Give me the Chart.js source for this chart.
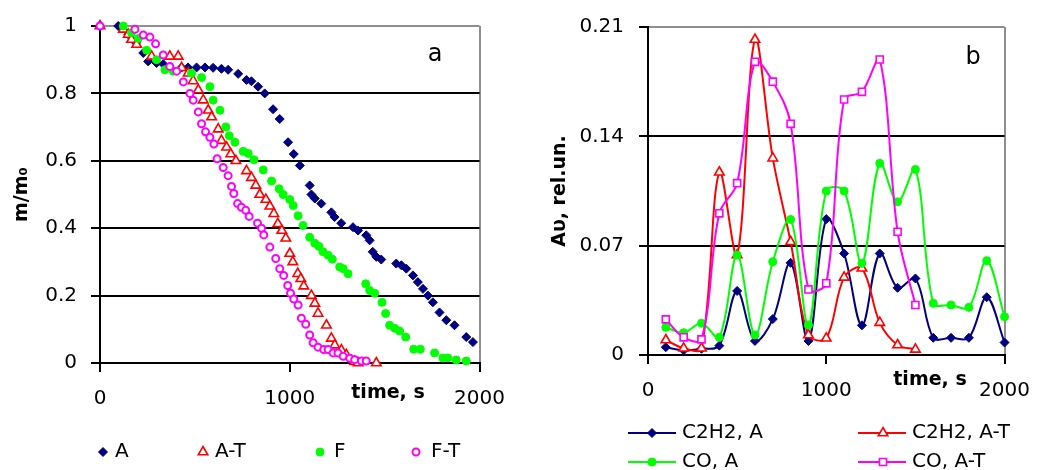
<!DOCTYPE html>
<html>
<head>
<meta charset="utf-8">
<script src="https://cdn.jsdelivr.net/npm/chart.js@4.4.0/dist/chart.umd.min.js"></script>
<style>
  html, body { margin: 0; padding: 0; background: #fff; }
  #wrap { position: relative; width: 1045px; height: 470px; overflow: hidden; }
  #chartA { position: absolute; left: 0; top: 0; }
  #chartB { position: absolute; left: 520px; top: 0; }
</style>
</head>
<body>
<div id="wrap">
  <canvas id="chartA" width="520" height="470"></canvas>
  <canvas id="chartB" width="525" height="470"></canvas>
</div>
<script>
// --- chart a: relative mass vs time ---
const tA = [96, 150, 190, 228, 254, 298, 333, 430, 464, 509, 553, 596, 640, 675, 728, 772, 798, 833, 868, 912,
  947, 991, 1021, 1053, 1105, 1114, 1132, 1166, 1219, 1236, 1271, 1333, 1360, 1403, 1421, 1437, 1456, 1482, 1561, 1588,
  1614, 1649, 1675, 1702, 1728, 1754, 1789, 1825, 1868, 1930, 1965];
const mA = [1.0, 0.975, 0.95, 0.92, 0.895, 0.89, 0.887, 0.877, 0.877, 0.877, 0.877, 0.876, 0.873, 0.87, 0.858, 0.84, 0.836, 0.82, 0.80, 0.753,
  0.724, 0.655, 0.62, 0.586, 0.527, 0.50, 0.488, 0.473, 0.447, 0.433, 0.415, 0.403, 0.393, 0.379, 0.364, 0.33, 0.315, 0.307, 0.295, 0.29,
  0.28, 0.26, 0.24, 0.22, 0.20, 0.18, 0.15, 0.127, 0.112, 0.077, 0.062];

const tAT = [0, 123, 149, 166, 193, 272, 368, 412, 430, 465, 491, 518, 544, 570, 588, 623, 640, 667, 689, 716,
  772, 798, 821, 842, 874, 895, 916, 937, 958, 979, 1000, 1016, 1042, 1058, 1074, 1114, 1132, 1149, 1193, 1219,
  1237, 1272, 1298, 1342, 1360, 1456];
const mAT = [1.0, 0.99, 0.975, 0.96, 0.945, 0.91, 0.91, 0.91, 0.876, 0.86, 0.837, 0.81, 0.78, 0.75, 0.73, 0.694, 0.66, 0.64, 0.62, 0.60,
  0.57, 0.55, 0.527, 0.50, 0.485, 0.465, 0.443, 0.413, 0.393, 0.37, 0.325, 0.30, 0.265, 0.25, 0.228, 0.20, 0.177, 0.147, 0.112, 0.073,
  0.053, 0.038, 0.024, 0.004, 0.0, 0.0];

const tF = [123, 166, 202, 246, 298, 342, 386, 482, 535, 579, 596, 632, 663, 681, 711, 754, 781, 811, 860, 904,
  944, 965, 1000, 1018, 1044, 1070, 1105, 1132, 1154, 1175, 1202, 1224, 1263, 1281, 1307, 1400, 1421, 1447, 1486, 1505,
  1526, 1553, 1579, 1611, 1653, 1688, 1763, 1807, 1833, 1877, 1930];
const mF = [1.0, 0.98, 0.963, 0.928, 0.90, 0.87, 0.866, 0.86, 0.847, 0.82, 0.78, 0.75, 0.70, 0.674, 0.655, 0.628, 0.622, 0.603, 0.573, 0.54,
  0.517, 0.50, 0.485, 0.467, 0.437, 0.408, 0.373, 0.355, 0.346, 0.33, 0.32, 0.308, 0.285, 0.28, 0.265, 0.235, 0.215, 0.207, 0.18, 0.147,
  0.112, 0.103, 0.095, 0.077, 0.041, 0.041, 0.03, 0.015, 0.015, 0.009, 0.006];

const tFT = [0, 184, 228, 263, 293, 333, 368, 404, 439, 474, 491, 518, 535, 556, 579, 600, 617, 649, 675, 693,
  705, 725, 745, 768, 786, 830, 851, 863, 895, 926, 947, 968, 989, 1004, 1021, 1044, 1061, 1084, 1105, 1123,
  1149, 1179, 1202, 1228, 1254, 1281, 1316, 1342, 1377, 1403];
const mFT = [1.0, 0.99, 0.973, 0.967, 0.947, 0.914, 0.88, 0.866, 0.834, 0.80, 0.78, 0.745, 0.71, 0.686, 0.67, 0.65, 0.606, 0.58, 0.556, 0.524,
  0.503, 0.473, 0.462, 0.453, 0.435, 0.415, 0.40, 0.38, 0.344, 0.31, 0.28, 0.26, 0.23, 0.207, 0.19, 0.172, 0.133, 0.115, 0.083, 0.06,
  0.047, 0.04, 0.04, 0.03, 0.03, 0.02, 0.014, 0.01, 0.006, 0.006];

const xTicks = [0, 1000, 2000];
const yTicksA = [0, 0.2, 0.4, 0.6, 0.8, 1];

// --- chart b: absorbance vs time ---
const timeB = [100, 200, 300, 400, 500, 600, 700, 800, 900, 1000, 1100, 1200, 1300, 1400, 1500, 1600, 1700, 1800, 1900, 2000];
const c2h2A = [0.005, 0.003, 0.004, 0.006, 0.041, 0.009, 0.023, 0.059, 0.009, 0.087, 0.065, 0.019, 0.065, 0.043, 0.049, 0.011, 0.011, 0.011, 0.037, 0.008];
const c2h2AT = [0.0096, 0.0043, 0.0043, 0.117, 0.064, 0.202, 0.126, 0.0725, 0.0128, 0.0107, 0.0497, 0.0555, 0.0207, 0.0064, 0.0036];
const coA = [0.0177, 0.0143, 0.0203, 0.0113, 0.064, 0.0128, 0.0597, 0.0868, 0.0192, 0.105, 0.105, 0.0587, 0.1227, 0.0981, 0.1188, 0.0331, 0.032, 0.0305, 0.0604, 0.0245];
const coAT = [0.0228, 0.0113, 0.010, 0.0907, 0.110, 0.1877, 0.175, 0.148, 0.042, 0.0459, 0.1636, 0.1685, 0.1892, 0.0789, 0.032];
const yTicksB = [0, 0.07, 0.14, 0.21];

const FONT = '"DejaVu Sans", sans-serif';
const GRAY = '#8f8f8f';
const NAVY = '#000080', RED = '#ff0000', GREEN = '#00ff00', MAGENTA = '#ff00ff';

const pts = (xs, ys) => ys.map((y, i) => ({x: xs[i], y: y}));

// free text + hand placed legend, drawn after the chart
const notes = {
  id: 'notes',
  afterDraw(chart, args, opts) {
    const ctx = chart.ctx;
    ctx.save();
    ctx.textBaseline = 'middle';
    ctx.fillStyle = '#000';
    (opts.texts || []).forEach(t => {
      ctx.font = t.font;
      ctx.textAlign = 'center';
      ctx.fillText(t.text, t.x, t.y);
    });
    (opts.legend || []).forEach(it => {
      const ds = chart.data.datasets[it.ds];
      if (it.line) {
        ctx.strokeStyle = ds.borderColor;
        ctx.lineWidth = ds.borderWidth;
        ctx.beginPath();
        ctx.moveTo(it.line[0], it.y);
        ctx.lineTo(it.line[1], it.y);
        ctx.stroke();
      }
      ctx.fillStyle = ds.pointBackgroundColor;
      ctx.strokeStyle = ds.pointBorderColor;
      ctx.lineWidth = ds.pointBorderWidth;
      Chart.helpers.drawPoint(ctx, {
        pointStyle: ds.pointStyle, radius: ds.pointRadius,
        borderWidth: ds.pointBorderWidth, rotation: 0
      }, it.mx, it.y);
      ctx.fillStyle = '#000';
      ctx.font = '20px ' + FONT;
      ctx.textAlign = 'left';
      ctx.fillText(ds.label, it.tx, it.y);
    });
    ctx.restore();
  }
};

function axes(yTicks, yMax, yWidth, yTitle, yTitlePad, yPad) {
  return {
    x: {
      type: 'linear', min: 0, max: 2000,
      afterBuildTicks: s => { s.ticks = xTicks.map(v => ({value: v})); },
      afterFit: s => { s.height = 60; },
      border: {color: '#000', width: 2},
      grid: {
        color: c => (c.tick && c.tick.value === 2000) ? GRAY : 'rgba(0,0,0,0)',
        tickColor: '#000', lineWidth: 2, tickLength: 9
      },
      ticks: {color: '#000', padding: 15, maxRotation: 0, font: {family: FONT, size: 20}, callback: v => String(v)}
    },
    y: {
      type: 'linear', min: 0, max: yMax,
      afterBuildTicks: s => { s.ticks = yTicks.map(v => ({value: v})); },
      afterFit: s => { s.width = yWidth; },
      border: {color: '#000', width: 2},
      grid: {
        color: c => (c.tick && c.tick.value === yMax) ? GRAY : '#000',
        tickColor: '#000', lineWidth: 2, tickLength: 9
      },
      ticks: {color: '#000', padding: yPad, font: {family: FONT, size: 20}, callback: v => String(v)},
      title: {display: true, text: yTitle, color: '#000', padding: {top: yTitlePad, bottom: 0},
        font: {family: FONT, size: 19, weight: 'bold'}}
    }
  };
}

new Chart(document.getElementById('chartA').getContext('2d'), {
  type: 'scatter',
  data: {
    datasets: [
      {label: 'A', data: pts(tA, mA), order: 4, pointStyle: 'rectRot', pointRadius: 4.5,
        pointBackgroundColor: NAVY, pointBorderColor: NAVY, pointBorderWidth: 1, clip: false},
      {label: 'A-T', data: pts(tAT, mAT), order: 3, pointStyle: 'triangle', pointRadius: 5.5,
        pointBackgroundColor: '#fff', pointBorderColor: RED, pointBorderWidth: 1.6, clip: false},
      {label: 'F', data: pts(tF, mF), order: 2, pointStyle: 'circle', pointRadius: 4,
        pointBackgroundColor: GREEN, pointBorderColor: GREEN, pointBorderWidth: 1, clip: false},
      {label: 'F-T', data: pts(tFT, mFT), order: 1, pointStyle: 'circle', pointRadius: 3.5,
        pointBackgroundColor: '#fff', pointBorderColor: MAGENTA, pointBorderWidth: 2, clip: false}
    ]
  },
  options: {
    responsive: false,
    animation: false,
    devicePixelRatio: 1,
    layout: {padding: {top: 25, right: 40, bottom: 47, left: 0}},
    scales: axes(yTicksA, 1, 100, 'm/m\u2080', 11, 14),
    plugins: {
      legend: {display: false},
      tooltip: {enabled: false},
      notes: {
        texts: [
          {text: 'a', x: 435, y: 55, font: '24px ' + FONT},
          {text: 'time, s', x: 388, y: 393, font: 'bold 19px ' + FONT}
        ],
        legend: [
          {ds: 0, mx: 103, tx: 115, y: 452},
          {ds: 1, mx: 203, tx: 215, y: 452},
          {ds: 2, mx: 320, tx: 334, y: 452},
          {ds: 3, mx: 416, tx: 431, y: 452}
        ]
      }
    }
  },
  plugins: [notes]
});

new Chart(document.getElementById('chartB').getContext('2d'), {
  type: 'scatter',
  data: {
    datasets: [
      {label: 'C2H2, A', data: pts(timeB, c2h2A), order: 4, showLine: true, tension: 0.35,
        borderColor: NAVY, borderWidth: 2, pointStyle: 'rectRot', pointRadius: 4.5,
        pointBackgroundColor: NAVY, pointBorderColor: NAVY, pointBorderWidth: 1, clip: false},
      {label: 'C2H2, A-T', data: pts(timeB, c2h2AT), order: 3, showLine: true, tension: 0.35,
        borderColor: RED, borderWidth: 2, pointStyle: 'triangle', pointRadius: 5.5,
        pointBackgroundColor: '#fff', pointBorderColor: RED, pointBorderWidth: 1.6, clip: false},
      {label: 'CO, A', data: pts(timeB, coA), order: 2, showLine: true, tension: 0.35,
        borderColor: GREEN, borderWidth: 2, pointStyle: 'circle', pointRadius: 4,
        pointBackgroundColor: GREEN, pointBorderColor: GREEN, pointBorderWidth: 1, clip: false},
      {label: 'CO, A-T', data: pts(timeB, coAT), order: 1, showLine: true, tension: 0.35,
        borderColor: MAGENTA, borderWidth: 2, pointStyle: 'rect', pointRadius: 5,
        pointBackgroundColor: '#fff', pointBorderColor: MAGENTA, pointBorderWidth: 1.6, clip: false}
    ]
  },
  options: {
    responsive: false,
    animation: false,
    devicePixelRatio: 1,
    layout: {padding: {top: 27, right: 31, bottom: 55, left: 0}},
    scales: axes(yTicksB, 0.21, 128, 'A\u03c5, rel.un.', 29, 15),
    plugins: {
      legend: {display: false},
      tooltip: {enabled: false},
      notes: {
        texts: [
          {text: 'b', x: 453, y: 58, font: '24px ' + FONT},
          {text: 'time, s', x: 410, y: 380, font: 'bold 19px ' + FONT}
        ],
        legend: [
          {ds: 0, line: [108, 156], mx: 132, tx: 162, y: 433},
          {ds: 1, line: [338, 386], mx: 363, tx: 392, y: 433},
          {ds: 2, line: [108, 156], mx: 132, tx: 162, y: 462},
          {ds: 3, line: [338, 386], mx: 363, tx: 392, y: 462}
        ]
      }
    }
  },
  plugins: [notes]
});
</script>
</body>
</html>
